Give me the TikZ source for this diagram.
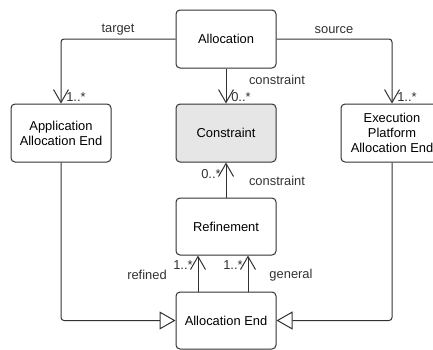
\documentclass[tikz,border=0pt]{standalone}
\usepackage{fontspec}
\setmainfont{Liberation Sans}
\usepackage{tikz}
\usetikzlibrary{arrows.meta, positioning, calc}
\definecolor{mydark}{RGB}{50,50,50}
\definecolor{mygrey}{RGB}{230,230,230}
\tikzset{
  classbox/.style={rectangle, draw=mydark, fill=white, align=center,
    minimum width=100pt, minimum height=58pt, font=\fontsize{12.9}{15}\selectfont,
    rounded corners=4pt, line width=1pt},
  assoc/.style={-{Straight Barb[length=13pt, width=15pt, line width=1pt]},
    line width=1pt, color=mydark, rounded corners=3pt},
  general/.style={-{Triangle[open, length=16pt, width=18pt, line width=1pt, fill=white]},
    line width=1pt, color=mydark, rounded corners=3pt},
  lbl/.style={font=\fontsize{12.9}{15}\selectfont, color=mydark, inner sep=0pt}
}
\begin{document}
\begin{tikzpicture}[x=1pt, y=-1pt]
  \useasboundingbox (0,0) rectangle (433,349);
  % classes
  \node[classbox] (alloc) at (226,39) {Allocation};
  \node[classbox] (app) at (61,133) {Application\\Allocation End};
  \node[classbox, fill=mygrey] (con) at (226,133) {Constraint};
  \node[classbox, minimum width=102pt] (exec) at (392,133) {Execution\\Platform\\Allocation End};
  \node[classbox, minimum height=57pt] (ref) at (226,226.5) {Refinement};
  \node[classbox, minimum height=57pt] (aend) at (226,320.5) {Allocation End};

  % associations
  \draw[assoc] (alloc.west) -| (app.north);
  \draw[assoc] (alloc.east) -| (exec.north);
  \draw[assoc] (alloc.south) -- (con.north);
  \draw[assoc] (ref.north) -- (con.south);
  \draw[assoc] ([xshift=-28pt]aend.north) -- ([xshift=-28pt]ref.south);
  \draw[assoc] ([xshift=22pt]aend.north) -- ([xshift=22pt]ref.south);

  % generalizations
  \draw[general] (app.south) |- (aend.west);
  \draw[general] (exec.south) |- (aend.east);

  % role names and multiplicities
  \node[lbl] (ltarget) at (118,30) {target};
  \node[lbl] (lsource) at (334,30) {source};
  \node[lbl] (mapp) at (76,97) {1..*};
  \node[lbl] (mexec) at (407,97) {1..*};
  \node[lbl] (lcon) at (277,80) {constraint};
  \node[lbl] (mcon) at (241,97) {0..*};
  \node[lbl] (mref) at (211,174) {0..*};
  \node[lbl] (lref) at (277,181) {constraint};
  \node[lbl] (mrefined) at (183,265) {1..*};
  \node[lbl] (lrefined) at (147,275) {refined};
  \node[lbl] (mgeneral) at (233,265) {1..*};
  \node[lbl] (lgeneral) at (291,275) {general};
\end{tikzpicture}
\end{document}
